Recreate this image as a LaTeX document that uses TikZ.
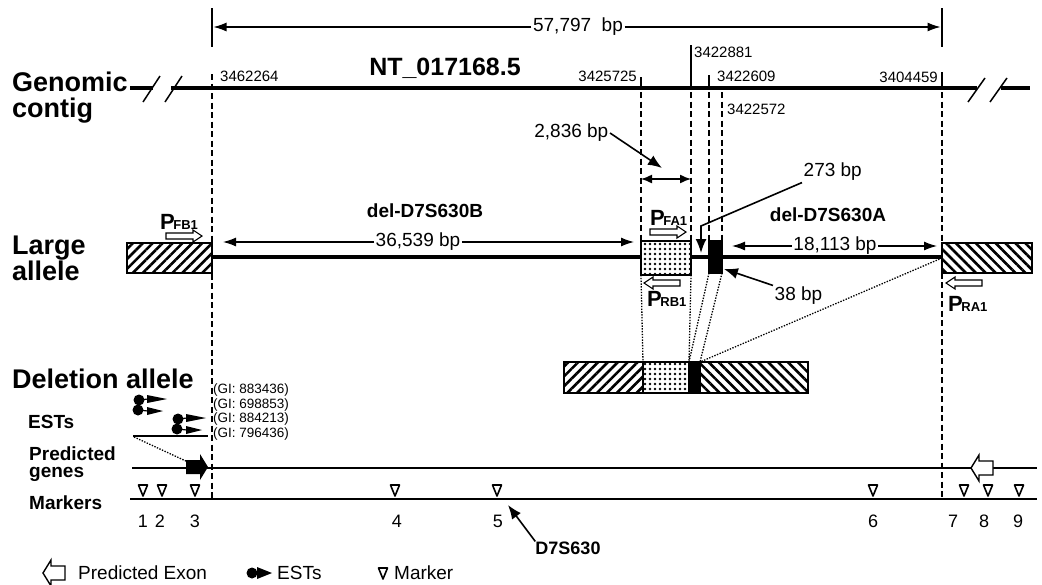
\documentclass[tikz,border=0pt]{standalone}
\usepackage{fontspec}
\setmainfont{Liberation Sans}
\usetikzlibrary{arrows.meta, positioning, patterns.meta, calc}
\newcommand{\prm}[1]{{\fontsize{22}{22}\selectfont P}\kern-1.5pt{\fontsize{13}{13}\selectfont #1}}
\tikzset{
  rowlbl/.style={font=\fontsize{27}{26}\selectfont\bfseries, align=left, anchor=north west, inner sep=0pt},
  sublbl/.style={font=\fontsize{19}{17}\selectfont\bfseries, align=left, anchor=west, inner sep=0pt},
  coordlbl/.style={font=\fontsize{15}{15}\selectfont, inner sep=0pt},
  bplbl/.style={font=\fontsize{19}{19}\selectfont, inner sep=1.5pt},
  dellbl/.style={font=\fontsize{19}{19}\selectfont\bfseries, inner sep=0pt},
  gilbl/.style={font=\fontsize{13.5}{13.5}\selectfont, anchor=west, inner sep=0pt},
  mknum/.style={font=\fontsize{18}{18}\selectfont, inner sep=0pt},
  lgd/.style={font=\fontsize{19}{19}\selectfont, anchor=west, inner sep=0pt},
  prmlbl/.style={font=\bfseries, anchor=base west, inner sep=0pt},
  seg/.style={draw, line width=1.5pt, inner sep=0pt, outer sep=0pt, anchor=north west},
  contig/.style={line width=3.5pt},
  tick/.style={line width=1.5pt},
  guide/.style={line width=1.6pt, dash pattern=on 6pt off 3.5pt},
  link/.style={line width=1.3pt, dash pattern=on 1.4pt off 1.4pt},
  thinl/.style={line width=1.3pt},
  dimarr/.style={-{Latex[length=13pt, width=9pt]}, line width=1.2pt},
  dimboth/.style={{Latex[length=11pt, width=9pt]}-{Latex[length=11pt, width=9pt]}, line width=1.4pt},
  callout/.style={-{Latex[length=14pt, width=11pt]}, line width=1.6pt},
  hatchne/.style={preaction={fill=white}, pattern={Lines[angle=45, distance=7pt, line width=2.6pt]}},
  hatchnw/.style={preaction={fill=white}, pattern={Lines[angle=-45, distance=7pt, line width=2.6pt]}},
  dotfill/.style={preaction={fill=white}, pattern={Dots[distance=5pt, radius=1.4pt]}},
  pics/primer/.style={code={
    \draw[line width=1.1pt, fill=white] (-18,-3) -- (9,-3) -- (9,-6) -- (18,0) -- (9,6) -- (9,3) -- (-18,3) -- cycle;}},
  pics/stsmark/.style={code={
    \draw[line width=1.6pt, fill=white, line join=round] (-4.5,-11) -- (4.5,-11) -- (0,0) -- cycle;}},
  pics/exon/.style={code={
    \path[pic actions] (0,0) -- (8,-13) -- (8,-7) -- (22,-7) -- (22,7) -- (8,7) -- (8,13) -- cycle;}},
  pics/est/.style={code={
    \fill (0,0) circle (5.5) (-1,10) circle (5.5);
    \draw[line width=1.2pt] (0,0) -- (9,-1) (-1,10) -- (9,11);
    \fill (8,-5) -- (28,-1) -- (8,3) -- cycle;
    \fill (8,7) -- (24,11) -- (8,15) -- cycle;}},
}

\begin{document}
\begin{tikzpicture}[x=1pt, y=-1pt]
  \useasboundingbox (0,0) rectangle (1042,584);

  % overall span
  \draw[tick] (212,8) -- (212,47) (942,8) -- (942,47);
  \node[bplbl] (span) at (578,27) {57,797\ \ bp};
  \draw[dimarr] (span.west) -- (213.5,27);
  \draw[dimarr] (span.east) -- (940.5,27);

  % genomic contig
  \node[rowlbl] (gen) at (12,72) {Genomic\\contig};
  \draw[contig] (130,88) -- (153,88) (171,88) -- (977,88) (1001,88) -- (1030,88);
  \draw[tick] (143,102) -- (160,76) (165,102) -- (182,76) (968,102) -- (985,78) (990,102) -- (1007,78);
  \node[font=\fontsize{25}{25}\selectfont\bfseries] (ntid) at (445,68) {NT\_017168.5};
  \node[coordlbl, anchor=west] (p1) at (220,76) {3462264};
  \node[coordlbl, anchor=east] (p2) at (637,76) {3425725};
  \node[coordlbl, anchor=west] (p3) at (694,52) {3422881};
  \node[coordlbl, anchor=west] (p4) at (717,76) {3422609};
  \node[coordlbl, anchor=west] (p5) at (727,109) {3422572};
  \node[coordlbl, anchor=east] (p6) at (938,77) {3404459};
  \draw[tick] (641,77) -- (641,88) (691,45) -- (691,88) (709,75) -- (709,88) (942,72) -- (942,88);
  \draw[guide] (212,74) -- (212,500);
  \draw[guide] (641,92) -- (641,241) (691,92) -- (691,241) (709,92) -- (709,241) (722,92) -- (722,241);
  \draw[guide] (942,92) -- (942,500);

  % large allele
  \node[rowlbl] (large) at (12,236) {Large\\allele};
  \draw[contig] (212,257) -- (942,257);
  \node[seg, hatchne, minimum width=85pt, minimum height=30pt] (lbox) at (127,243) {};
  \node[seg, hatchnw, minimum width=90pt, minimum height=30pt] (rbox) at (942,243) {};
  \node[seg, dotfill, minimum width=50pt, minimum height=34pt] (sbox) at (641,241) {};
  \node[seg, fill=black, minimum width=13pt, minimum height=32pt] (bbox) at (709,241) {};

  \node[dellbl] (delb) at (425,211) {del-D7S630B};
  \node[bplbl] (b36) at (418,242) {36,539 bp};
  \draw[dimarr] (b36.west) -- (223,242);
  \draw[dimarr] (b36.east) -- (634,242);
  \node[dellbl] (dela) at (828,215) {del-D7S630A};
  \node[bplbl] (b18) at (835,246) {18,113 bp};
  \draw[dimarr] (b18.west) -- (732,246);
  \draw[dimarr] (b18.east) -- (937,246);

  \draw[dimboth] (641,179) -- (691,179);
  \node[bplbl, anchor=east] (b28) at (610,133) {2,836 bp};
  \coordinate (c28) at (662,168);
  \draw[callout] (b28.east) -- (c28);
  \node[bplbl, anchor=west] (b273) at (802,172) {273 bp};
  \coordinate (c273) at (701,253);
  \draw[callout] (b273.south west) -- (701,226) -- (c273);
  \node[bplbl, anchor=west] (b38) at (773,296) {38 bp};
  \draw[callout, shorten >=2pt] (b38.north west) -- (bbox.-60);

  % primers
  \pic at (184,236) {primer};
  \node[prmlbl] (pfb) at (160,229) {\prm{FB1}};
  \pic at (668,232) {primer};
  \node[prmlbl] (pfa) at (650,225) {\prm{FA1}};
  \pic[rotate=180] at (662,283) {primer};
  \node[prmlbl] (prb) at (647,306) {\prm{RB1}};
  \pic[rotate=180] at (964,283) {primer};
  \node[prmlbl] (pra) at (948,311) {\prm{RA1}};

  % deletion allele
  \node[rowlbl, anchor=west] (dell) at (12,379) {Deletion allele};
  \node[seg, hatchne, minimum width=79pt, minimum height=31pt] (da) at (564,362) {};
  \node[seg, dotfill, minimum width=46pt, minimum height=31pt] (db) at (643,362) {};
  \node[seg, fill=black, minimum width=11pt, minimum height=31pt] (dc) at (689,362) {};
  \node[seg, hatchnw, minimum width=108pt, minimum height=31pt] (dd) at (700,362) {};
  \draw[link] (sbox.south west) -- (db.north west);
  \draw[link] (sbox.south east) -- (db.north east);
  \draw[link] (bbox.south west) -- (dc.north west);
  \draw[link] (bbox.south east) -- (dc.north east);
  \draw[link] (rbox.west) -- (dc.north east);

  % ESTs
  \node[sublbl] (ests) at (28,422) {ESTs};
  \foreach \g [count=\i] in {883436, 698853, 884213, 796436}
    \node[gilbl] (gi\i) at (213, 375.5+14.5*\i) {(GI: \g)};
  \pic at (139,400) {est};
  \pic at (178,419) {est};
  \draw[thinl] (133,436) -- (208,436);
  \coordinate (estl) at (134,437);
  \coordinate (exl) at (188,462);
  \draw[link] (estl) -- (exl);

  % predicted genes
  \node[sublbl] (pred) at (29,464) {Predicted\\genes};
  \draw[thinl] (132,468) -- (1037,468);
  \pic[rotate=180, fill=black] at (208,467) {exon};
  \pic[draw, fill=white, line width=1.4pt] at (971,468) {exon};

  % markers
  \node[sublbl] (mk) at (29,503) {Markers};
  \draw[thinl] (130,499) -- (1037,499);
  \foreach \x in {143,162,195,395,497,873,964,988,1019}
    \pic at (\x,496) {stsmark};
  \foreach \n/\x in {1/143, 2/160, 3/195, 4/397, 5/498, 6/873, 7/953, 8/984, 9/1018}
    \node[mknum] (n\n) at (\x,521) {\n};
  \node[dellbl, font=\fontsize{18}{18}\selectfont\bfseries] (d7) at (568,548) {D7S630};
  \coordinate (m5) at (508,505);
  \draw[callout] (d7.north west) -- (m5);

  % legend
  \pic[draw, fill=white, line width=1.4pt] at (43,573) {exon};
  \node[lgd] (lg1) at (78,573) {Predicted Exon};
  \fill (252,573) circle (5.5);
  \fill (257,567) -- (272,573) -- (257,579) -- cycle;
  \node[lgd] (lg2) at (277,573) {ESTs};
  \pic at (383,579) {stsmark};
  \node[lgd] (lg3) at (394,573) {Marker};
\end{tikzpicture}
\end{document}
